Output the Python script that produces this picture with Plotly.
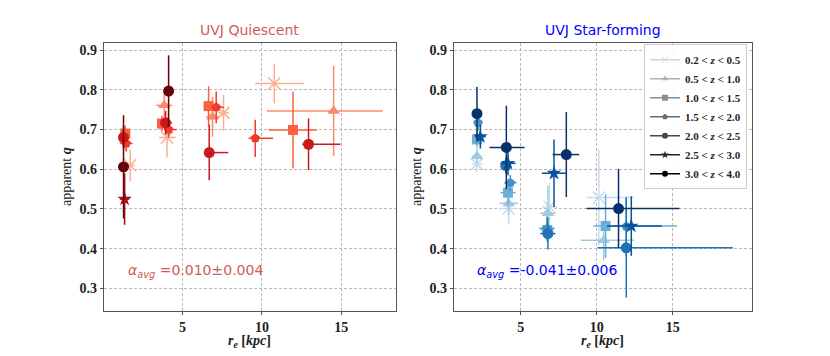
import plotly.graph_objects as go

# ---------------- data ----------------
z_labels = ["0.2 < z < 0.5", "0.5 < z < 1.0", "1.0 < z < 1.5", "1.5 < z < 2.0",
            "2.0 < z < 2.5", "2.5 < z < 3.0", "3.0 < z < 4.0"]
bin_symbols = ["x-thin", "triangle-up", "square", "pentagon", "circle", "star", "circle"]
reds = ["#fcae91", "#fc8a6a", "#fb6040", "#ef3b2c", "#cb181d", "#a50f15", "#67000d"]
blues = ["#c6dbef", "#9ecae1", "#6baed6", "#4292c6", "#2171b5", "#08519c", "#08306b"]
greys = ["#d4d4d4", "#b0b0b0", "#8c8c8c", "#6a6a6a", "#474747", "#252525", "#000000"]

x_ticks = [5, 10, 15]
y_ticks = [0.3, 0.4, 0.5, 0.6, 0.7, 0.8, 0.9]

# UVJ quiescent
qs_bin = [0, 0, 0, 0, 1, 1, 1, 2, 2, 2, 2, 3, 3, 3, 3, 4, 4, 4, 4, 5, 6, 6]
qs_r = [1.70, 4.02, 7.58, 10.78, 3.85, 6.89, 14.52, 1.39, 3.70, 6.64, 11.96,
        1.45, 4.12, 7.12, 9.58, 1.28, 3.93, 6.68, 12.94, 1.35, 1.28, 4.12]
qs_q = [0.610, 0.680, 0.742, 0.816, 0.761, 0.732, 0.747, 0.690, 0.715, 0.759, 0.699,
        0.665, 0.700, 0.756, 0.678, 0.680, 0.717, 0.642, 0.663, 0.525, 0.606, 0.797]
qs_r_lo = [0.3, 0.5, 0.35, 1.2, 0.5, 0.4, 4.2, 0.3, 0.3, 0.3, 1.55,
           0.4, 0.3, 0.3, 0.42, 0.3, 0.3, 0.3, 0.4, 0.3, 0.1, 0.1]
qs_r_hi = [0.3, 0.55, 0.35, 1.85, 0.5, 0.4, 3.1, 0.3, 0.3, 0.3, 1.5,
           0.4, 0.5, 0.5, 1.12, 0.3, 0.4, 1.2, 2.0, 0.3, 0.1, 0.1]
qs_q_err = [0.04, 0.05, 0.045, 0.05, 0.03, 0.05, 0.113, 0.02, 0.02, 0.05, 0.097,
            0.02, 0.02, 0.04, 0.047, 0.03, 0.03, 0.07, 0.065, 0.065, 0.13, 0.09]

# UVJ star-forming
sf_bin = [0, 0, 0, 0, 1, 1, 1, 1, 2, 2, 2, 2, 3, 3, 3, 3, 4, 4, 4, 5, 5, 5, 5, 6, 6, 6, 6]
sf_r = [2.13, 4.21, 6.90, 10.14, 2.13, 4.21, 6.79, 10.45, 2.13, 4.17, 6.75, 10.58,
        2.20, 4.32, 6.73, 11.94, 4.02, 6.79, 11.94, 2.35, 4.17, 7.19, 12.27,
        2.13, 4.06, 8.00, 11.43]
sf_q = [0.613, 0.501, 0.505, 0.529, 0.633, 0.514, 0.489, 0.421, 0.675, 0.541, 0.447, 0.457,
        0.717, 0.566, 0.451, 0.456, 0.609, 0.438, 0.402, 0.682, 0.615, 0.590, 0.457,
        0.740, 0.655, 0.637, 0.501]
sf_r_lo = [0.35, 0.6, 0.5, 0.8, 0.3, 0.6, 0.5, 1.5, 0.3, 0.5, 0.4, 0.8,
           0.3, 0.4, 0.5, 0.4, 0.3, 0.5, 1.9, 0.35, 0.5, 0.8, 1.6,
           0.3, 1.1, 0.9, 2.1]
sf_r_hi = [0.35, 0.6, 0.5, 2.3, 0.3, 0.6, 0.5, 2.0, 0.3, 0.5, 0.4, 4.7,
           0.3, 0.4, 0.5, 0.4, 0.3, 0.5, 7.0, 0.35, 0.5, 0.8, 2.0,
           0.3, 1.2, 0.85, 4.0]
sf_q_err = [0.02, 0.04, 0.06, 0.12, 0.02, 0.03, 0.07, 0.05, 0.02, 0.03, 0.03, 0.08,
            0.02, 0.02, 0.03, 0.075, 0.02, 0.04, 0.125, 0.03, 0.03, 0.085, 0.075,
            0.067, 0.105, 0.107, 0.1]

alpha_qs = "=0.010±0.004"
alpha_sf = "=-0.041±0.006"

sizes = {"x-thin": 12, "triangle-up": 11, "square": 10, "pentagon": 10,
         "circle": 11, "star": 11}

# ---------------- figure ----------------
fig = go.Figure()


def add_panel(bins, rs, qs, rlo, rhi, qerr, colors, xa, ya):
    for b in range(7):
        idx = [i for i, v in enumerate(bins) if v == b]
        if not idx:
            continue
        sym = bin_symbols[b]
        col = colors[b]
        fig.add_trace(go.Scatter(
            x=[rs[i] for i in idx], y=[qs[i] for i in idx],
            mode="markers", xaxis=xa, yaxis=ya, showlegend=False,
            marker=dict(symbol=sym, size=sizes[sym], color=col,
                        line=dict(color=col, width=1.5 if sym == "x-thin" else 0)),
            error_x=dict(type="data", symmetric=False,
                         array=[rhi[i] for i in idx], arrayminus=[rlo[i] for i in idx],
                         color=col, thickness=1.5, width=0),
            error_y=dict(type="data", array=[qerr[i] for i in idx],
                         color=col, thickness=1.5, width=0),
        ))


add_panel(qs_bin, qs_r, qs_q, qs_r_lo, qs_r_hi, qs_q_err, reds, "x", "y")
add_panel(sf_bin, sf_r, sf_q, sf_r_lo, sf_r_hi, sf_q_err, blues, "x2", "y2")

# legend entries (grey proxies)
for b in range(7):
    sym = bin_symbols[b]
    lab = z_labels[b].replace("z", "<i>z</i>")
    fig.add_trace(go.Scatter(
        x=[None], y=[None], mode="lines+markers", xaxis="x2", yaxis="y2",
        name="<b>" + lab + "</b>",
        line=dict(color=greys[b], width=1.5),
        marker=dict(symbol=sym, size=6, color=greys[b],
                    line=dict(color=greys[b], width=1 if sym == "x-thin" else 0)),
    ))

serif = "Liberation Serif, DejaVu Serif, serif"
axis_common = dict(
    showline=True, mirror=True, linecolor="#555555", linewidth=1.2,
    ticks="outside", ticklen=3, tickcolor="#555555",
    showgrid=True, gridcolor="#b8b8b8", gridwidth=0.8, griddash="3px,2px",
    zeroline=False, automargin=False,
    tickfont=dict(family=serif, size=14, color="#222222"),
)

x_text = ["<b>%d</b>" % v for v in x_ticks]
y_text = ["<b>%.1f</b>" % v for v in y_ticks]

xtitle_txt = "<b><i>r</i><sub><i>e</i></sub> [<i>kpc</i>]</b>"
ytitle_txt = "apparent <b><i>q</i></b>"
tfont = dict(family=serif, size=14, color="#222222")

fig.update_layout(
    width=830, height=356,
    margin=dict(l=0, r=0, t=43, b=45),
    paper_bgcolor="white", plot_bgcolor="white",
    xaxis=dict(domain=[0.1253, 0.4771], range=[0.05, 18.45],
               tickvals=x_ticks, ticktext=x_text, **axis_common),
    yaxis=dict(domain=[0, 1], range=[0.243, 0.918],
               tickvals=y_ticks, ticktext=y_text, **axis_common),
    xaxis2=dict(domain=[0.547, 0.906], range=[0.62, 20.2], anchor="y2",
                tickvals=x_ticks, ticktext=x_text, **axis_common),
    yaxis2=dict(domain=[0, 1], range=[0.243, 0.918], anchor="x2",
                tickvals=y_ticks, ticktext=y_text, **axis_common),
    legend=dict(x=0.9, y=0.995, xanchor="right", yanchor="top",
                bgcolor="rgba(255,255,255,0.9)", bordercolor="#cccccc", borderwidth=1,
                font=dict(family=serif, size=11, color="#222222"),
                tracegroupgap=0, itemwidth=30),
    annotations=[
        dict(text="UVJ Quiescent", xref="paper", yref="paper", x=0.3012, y=1.048,
             xanchor="center", yanchor="middle", showarrow=False,
             font=dict(family="DejaVu Sans", size=14, color="#cd5c5c")),
        dict(text="UVJ Star-forming", xref="paper", yref="paper", x=0.7265, y=1.048,
             xanchor="center", yanchor="middle", showarrow=False,
             font=dict(family="DejaVu Sans", size=14, color="blue")),
        dict(text="<i>α</i><sub><i>avg</i></sub> " + alpha_qs, xref="x", yref="y",
             x=1.45, y=0.345, xanchor="left", yanchor="middle", showarrow=False,
             font=dict(family="DejaVu Sans", size=14, color="#cd5c5c")),
        dict(text="<i>α</i><sub><i>avg</i></sub> " + alpha_sf, xref="x2", yref="y2",
             x=2.0, y=0.345, xanchor="left", yanchor="middle", showarrow=False,
             font=dict(family="DejaVu Sans", size=14, color="blue")),
        # axis titles
        dict(text=xtitle_txt, xref="paper", yref="paper", x=0.3012, y=-0.078,
             xanchor="center", yanchor="top", showarrow=False, borderpad=0, font=tfont),
        dict(text=xtitle_txt, xref="paper", yref="paper", x=0.7265, y=-0.078,
             xanchor="center", yanchor="top", showarrow=False, borderpad=0, font=tfont),
        dict(text=ytitle_txt, xref="paper", yref="paper", x=66 / 830, y=0.5,
             xanchor="center", yanchor="middle", showarrow=False, textangle=-90,
             font=tfont),
        dict(text=ytitle_txt, xref="paper", yref="paper", x=416 / 830, y=0.5,
             xanchor="center", yanchor="middle", showarrow=False, textangle=-90,
             font=tfont),
    ],
)

fig.write_html("out.html", config={"displayModeBar": False},
               post_script="document.body.style.margin='0';document.body.style.padding='0';")
